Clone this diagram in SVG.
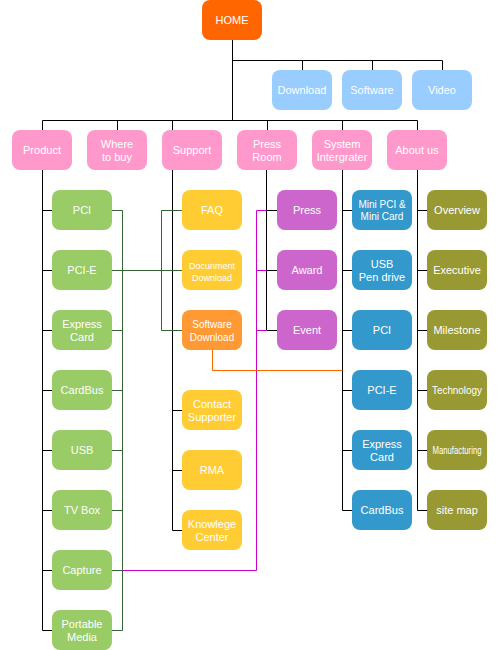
<svg xmlns="http://www.w3.org/2000/svg" width="500" height="650" viewBox="0 0 500 650">
<style>
.n rect{rx:8px;ry:8px}
text{font-family:"Liberation Sans",Arial,sans-serif;font-size:11px;fill:#fff;text-anchor:middle}
.c path{fill:none;stroke-width:1}
.k{stroke:#000}
.g{stroke:#336633}
.m{stroke:#CC00CC}
.o{stroke:#FF6600}
.home{fill:#FF6600}.blue{fill:#99CCFF}.pink{fill:#FF99CC}.green{fill:#99CC66}.yel{fill:#FFCC33}.org{fill:#FF9933}.pur{fill:#CC66CC}.sys{fill:#3399CC}.olv{fill:#999933}
</style>
<rect width="500" height="650" fill="#fff"/>
<g id="connectors" class="c">
<path class="k" d="M232.5,40V120.5M232.5,60.5H442.5M302.5,60.5V70M372.5,60.5V70M442.5,60.5V70M42.5,120.5H417.5M42.5,120.5V130M117.5,120.5V130M172.5,120.5V130M267.5,120.5V130M342.5,120.5V130M417.5,120.5V130"/>
<path class="k" d="M42.5,170V630.5M42.5,210.5H52M42.5,270.5H52M42.5,330.5H52M42.5,390.5H52M42.5,450.5H52M42.5,510.5H52M42.5,570.5H52M42.5,630.5H52"/>
<path class="k" d="M172.5,170V530.5M172.5,210.5H182M172.5,270.5H182M172.5,330.5H182M172.5,410.5H182M172.5,470.5H182M172.5,530.5H182"/>
<path class="k" d="M266.5,170V330.5M266.5,210.5H277M266.5,270.5H277M266.5,330.5H277"/>
<path class="k" d="M342.5,170V510.5M342.5,210.5H352M342.5,270.5H352M342.5,330.5H352M342.5,390.5H352M342.5,450.5H352M342.5,510.5H352"/>
<path class="k" d="M417.5,170V510.5M417.5,210.5H427M417.5,270.5H427M417.5,330.5H427M417.5,390.5H427M417.5,450.5H427M417.5,510.5H427"/>
<path class="g" d="M112,210.5H122.5V630.5H112M112,330.5H122.5M112,390.5H122.5M112,450.5H122.5M112,510.5H122.5M112,570.5H122.5M112,270.5H182M182,210.5H161.5V330.5H182"/>
<path class="m" d="M122.5,570.5H256.5V210.5H266.5M256.5,270.5H266.5M256.5,330.5H266.5"/>
<path class="o" d="M212.5,350V370.5H342.5"/>
</g>
<g id="home" class="n"><rect class="home" x="202" y="0" width="60" height="40"/><text x="232" y="24">HOME</text></g>
<g id="download" class="n"><rect class="blue" x="272" y="70" width="60" height="40"/><text x="302" y="94">Download</text></g>
<g id="software" class="n"><rect class="blue" x="342" y="70" width="60" height="40"/><text x="372" y="94">Software</text></g>
<g id="video" class="n"><rect class="blue" x="412" y="70" width="60" height="40"/><text x="442" y="94">Video</text></g>
<g id="product" class="n"><rect class="pink" x="12" y="130" width="60" height="40"/><text x="42" y="154">Product</text></g>
<g id="where" class="n"><rect class="pink" x="87" y="130" width="60" height="40"/><text x="117" y="148">Where</text><text x="117" y="160.5">to buy</text></g>
<g id="support" class="n"><rect class="pink" x="162" y="130" width="60" height="40"/><text x="192" y="154">Support</text></g>
<g id="pressroom" class="n"><rect class="pink" x="237" y="130" width="60" height="40"/><text x="267" y="148">Press</text><text x="267" y="160.5">Room</text></g>
<g id="system" class="n"><rect class="pink" x="312" y="130" width="60" height="40"/><text x="342" y="148">System</text><text x="342" y="160.5">Intergrater</text></g>
<g id="about" class="n"><rect class="pink" x="387" y="130" width="60" height="40"/><text x="417" y="154">About us</text></g>
<g id="p-pci" class="n"><rect class="green" x="52" y="190" width="60" height="40"/><text x="82" y="214">PCI</text></g>
<g id="p-pcie" class="n"><rect class="green" x="52" y="250" width="60" height="40"/><text x="82" y="274">PCI-E</text></g>
<g id="p-express" class="n"><rect class="green" x="52" y="310" width="60" height="40"/><text x="82" y="328">Express</text><text x="82" y="340.5">Card</text></g>
<g id="p-cardbus" class="n"><rect class="green" x="52" y="370" width="60" height="40"/><text x="82" y="394">CardBus</text></g>
<g id="p-usb" class="n"><rect class="green" x="52" y="430" width="60" height="40"/><text x="82" y="454">USB</text></g>
<g id="p-tvbox" class="n"><rect class="green" x="52" y="490" width="60" height="40"/><text x="82" y="514">TV Box</text></g>
<g id="p-capture" class="n"><rect class="green" x="52" y="550" width="60" height="40"/><text x="82" y="574">Capture</text></g>
<g id="p-portable" class="n"><rect class="green" x="52" y="610" width="60" height="40"/><text x="82" y="628">Portable</text><text x="82" y="640.5">Media</text></g>
<g id="s-faq" class="n"><rect class="yel" x="182" y="190" width="60" height="40"/><text x="212" y="214">FAQ</text></g>
<g id="s-doc" class="n"><rect class="yel" x="182" y="250" width="60" height="40"/><text x="212" y="269" style="font-size:9px">Docunment</text><text x="212" y="281" style="font-size:9px">Download</text></g>
<g id="s-soft" class="n"><rect class="org" x="182" y="310" width="60" height="40"/><text x="212" y="328" style="font-size:10px">Software</text><text x="212" y="340.5" style="font-size:10px">Download</text></g>
<g id="s-contact" class="n"><rect class="yel" x="182" y="390" width="60" height="40"/><text x="212" y="408">Contact</text><text x="212" y="420.5">Supporter</text></g>
<g id="s-rma" class="n"><rect class="yel" x="182" y="450" width="60" height="40"/><text x="212" y="474">RMA</text></g>
<g id="s-know" class="n"><rect class="yel" x="182" y="510" width="60" height="40"/><text x="212" y="528">Knowlege</text><text x="212" y="540.5">Center</text></g>
<g id="r-press" class="n"><rect class="pur" x="277" y="190" width="60" height="40"/><text x="307" y="214">Press</text></g>
<g id="r-award" class="n"><rect class="pur" x="277" y="250" width="60" height="40"/><text x="307" y="274">Award</text></g>
<g id="r-event" class="n"><rect class="pur" x="277" y="310" width="60" height="40"/><text x="307" y="334">Event</text></g>
<g id="i-mini" class="n"><rect class="sys" x="352" y="190" width="60" height="40"/><text x="382" y="207.5" style="font-size:10px">Mini PCI &amp;</text><text x="382" y="220" style="font-size:10px">Mini Card</text></g>
<g id="i-usb" class="n"><rect class="sys" x="352" y="250" width="60" height="40"/><text x="382" y="268">USB</text><text x="382" y="280.5">Pen drive</text></g>
<g id="i-pci" class="n"><rect class="sys" x="352" y="310" width="60" height="40"/><text x="382" y="334">PCI</text></g>
<g id="i-pcie" class="n"><rect class="sys" x="352" y="370" width="60" height="40"/><text x="382" y="394">PCI-E</text></g>
<g id="i-express" class="n"><rect class="sys" x="352" y="430" width="60" height="40"/><text x="382" y="448">Express</text><text x="382" y="460.5">Card</text></g>
<g id="i-cardbus" class="n"><rect class="sys" x="352" y="490" width="60" height="40"/><text x="382" y="514">CardBus</text></g>
<g id="a-overview" class="n"><rect class="olv" x="427" y="190" width="60" height="40"/><text x="457" y="214">Overview</text></g>
<g id="a-executive" class="n"><rect class="olv" x="427" y="250" width="60" height="40"/><text x="457" y="274">Executive</text></g>
<g id="a-milestone" class="n"><rect class="olv" x="427" y="310" width="60" height="40"/><text x="457" y="334">Milestone</text></g>
<g id="a-tech" class="n"><rect class="olv" x="427" y="370" width="60" height="40"/><text x="457" y="394" textLength="50" lengthAdjust="spacingAndGlyphs">Technology</text></g>
<g id="a-manu" class="n"><rect class="olv" x="427" y="430" width="60" height="40"/><text x="457" y="454" style="font-size:10px" textLength="49" lengthAdjust="spacingAndGlyphs">Manufacturing</text></g>
<g id="a-sitemap" class="n"><rect class="olv" x="427" y="490" width="60" height="40"/><text x="457" y="514">site map</text></g>
</svg>
